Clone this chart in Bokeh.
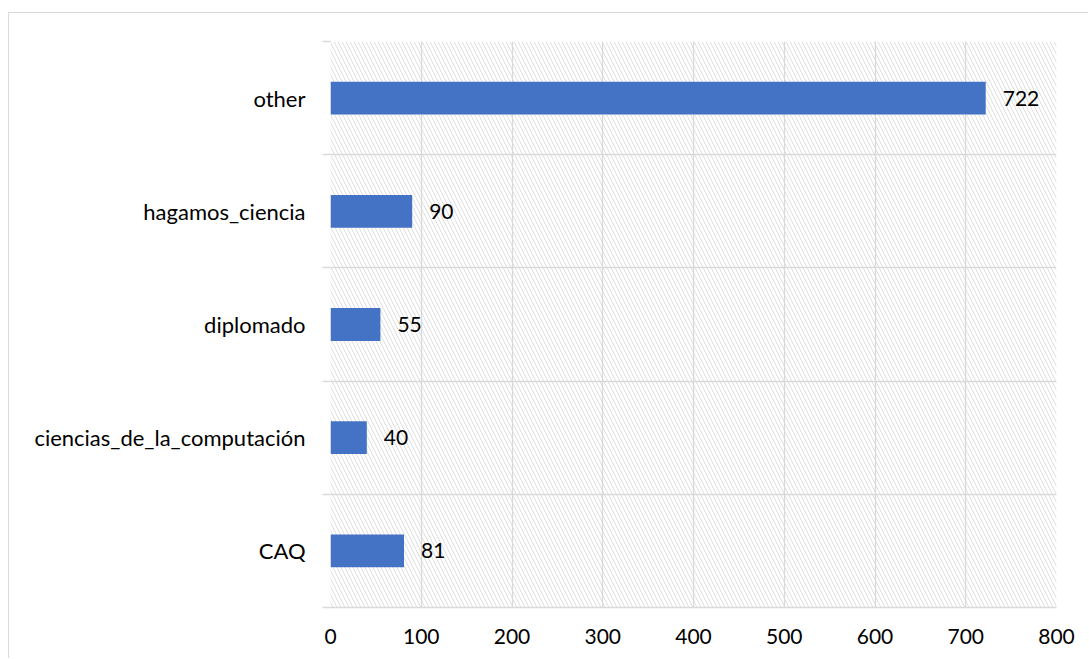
from bokeh.plotting import figure
from bokeh.models import ColumnDataSource, FixedTicker, BoxAnnotation, Range1d
from bokeh.core.properties import value
from bokeh.embed import file_html
from bokeh.resources import INLINE

categories = ["CAQ", "ciencias_de_la_computación", "diplomado", "hagamos_ciencia", "other"]
counts = [81, 40, 55, 90, 722]
x_ticks = [0, 100, 200, 300, 400, 500, 600, 700, 800]

FONT = "Lato"
GRID = "#d9d9d9"
FS = "21px"

pos = [i + 0.5 for i in range(len(categories))]
src = ColumnDataSource(dict(y=pos, v=counts, lab=[str(c) for c in counts]))

p = figure(width=1080, height=646, output_backend="svg", toolbar_location=None,
           x_range=Range1d(0, 800), y_range=Range1d(0, len(categories)),
           min_border_left=321, min_border_right=33, min_border_top=28, min_border_bottom=52)
p.styles = {"margin-top": "12px", "margin-left": "8px",
            "border-top": "1px solid #d9d9d9", "border-left": "1px solid #d9d9d9"}
p.outline_line_color = None
p.background_fill_color = "white"
p.border_fill_color = "white"

hatch = BoxAnnotation(fill_color=None, line_color=None, hatch_pattern="\\",
                      hatch_color="#dedede", hatch_scale=8, hatch_weight=1, level="image")
p.add_layout(hatch)

p.hbar(y="y", right="v", left=0, height=0.29, source=src, color="#4472C4", line_color=None)
p.text(x="v", y="y", text="lab", source=src, x_offset=17, text_align="left",
       text_baseline="middle", text_font=value(FONT), text_font_size=FS, text_color="#000000")

# x axis
p.xaxis.ticker = FixedTicker(ticks=x_ticks)
p.xaxis.axis_line_color = GRID
p.xaxis.axis_line_width = 1.3
p.xaxis.major_tick_line_color = None
p.xaxis.major_tick_out = 0
p.xaxis.major_tick_in = 0
p.xaxis.minor_tick_line_color = None
p.xaxis.major_label_standoff = 21
p.xaxis.major_label_text_font = FONT
p.xaxis.major_label_text_font_size = FS
p.xaxis.major_label_text_color = "#000000"

# y axis
p.yaxis.ticker = FixedTicker(ticks=pos, minor_ticks=list(range(len(categories) + 1)))
p.yaxis.major_label_overrides = {pv: c for pv, c in zip(pos, categories)}
p.yaxis.axis_line_color = None
p.yaxis.major_tick_line_color = None
p.yaxis.major_tick_out = 0
p.yaxis.major_tick_in = 0
p.yaxis.minor_tick_line_color = GRID
p.yaxis.minor_tick_line_width = 1.3
p.yaxis.minor_tick_out = 8
p.yaxis.minor_tick_in = 0
p.yaxis.major_label_standoff = 17
p.yaxis.major_label_text_font = FONT
p.yaxis.major_label_text_font_size = "22px"
p.yaxis.major_label_text_color = "#000000"

p.xgrid.ticker = FixedTicker(ticks=x_ticks)
p.xgrid.grid_line_color = GRID
p.xgrid.grid_line_width = 1.3
p.ygrid.ticker = FixedTicker(ticks=list(range(len(categories) + 1)))
p.ygrid.grid_line_color = GRID
p.ygrid.grid_line_width = 1.3

open("out.html", "w").write(file_html(p, INLINE))
